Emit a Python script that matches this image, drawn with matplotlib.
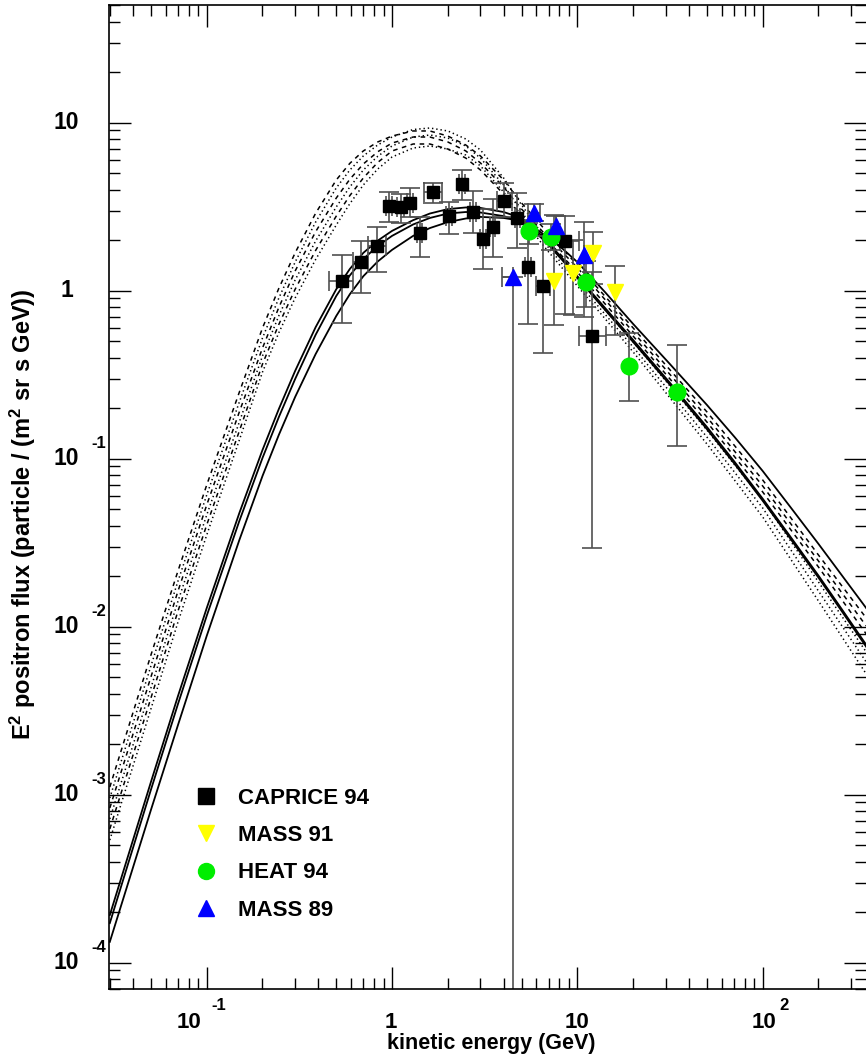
#POSITRON FLUX PLOT (E^2 weighted, log-log)
import numpy as np
import matplotlib.pyplot as plt
import matplotlib.transforms as mtransforms
from matplotlib.lines import Line2D
from matplotlib.ticker import LogLocator, NullFormatter

plt.rcParams['font.family'] = ['Liberation Sans', 'DejaVu Sans']
plt.rcParams['font.weight'] = 'bold'
plt.rcParams['mathtext.fontset'] = 'custom'
plt.rcParams['mathtext.rm'] = 'Liberation Sans:bold'
plt.rcParams['mathtext.bf'] = 'Liberation Sans:bold'
plt.rcParams['mathtext.it'] = 'Liberation Sans:bold:italic'

#solid model curves, values at these energies (GeV)
solid_energy = [0.03, 0.05, 0.07, 0.1, 0.15, 0.2, 0.245, 0.3, 0.387, 0.5, 0.592, 0.7, 0.837,
                1.0, 1.3, 1.6, 2.0, 2.5, 3.0, 4.0, 5.0, 5.92, 7.0, 8.37, 10, 14.1, 20, 31.6,
                50, 70.7, 100, 141, 200, 269, 362]
solid_1 = [1.92e-4, 1.19e-3, 3.87e-3, 1.29e-2, 4.75e-2, 0.1127, 0.1976, 0.333, 0.6064, 1.02, 1.347,
           1.68, 1.986, 2.27, 2.63, 2.88, 3.06, 3.13, 3.11, 2.94, 2.71, 2.327, 1.92, 1.543, 1.22,
           0.790, 0.509, 0.2828, 0.1545, 0.0954, 0.0578, 0.03437, 0.02014, 0.01257, 0.0078]
solid_2 = [1.72e-4, 1.07e-3, 3.47e-3, 1.16e-2, 4.26e-2, 0.101, 0.1769, 0.298, 0.5464, 0.930, 1.233,
           1.544, 1.845, 2.12, 2.48, 2.71, 2.88, 2.94, 2.92, 2.78, 2.58, 2.241, 1.87, 1.503, 1.19,
           0.769, 0.495, 0.2754, 0.150, 0.0928, 0.0562, 0.03344, 0.01959, 0.01223, 0.00759]
solid_3 = [1.33e-4, 8.11e-4, 2.60e-3, 8.81e-3, 3.28e-2, 0.0789, 0.1386, 0.233, 0.4195, 0.707, 0.953,
           1.22, 1.492, 1.75, 2.12, 2.36, 2.56, 2.69, 2.75, 2.71, 2.60, 2.350, 2.06, 1.768, 1.48,
           0.981, 0.634, 0.3656, 0.209, 0.1342, 0.0845, 0.0516, 0.0311, 0.02004, 0.0129]

#dashed and dotted model curves
band_energy = [0.03, 0.05, 0.07, 0.1, 0.15, 0.2, 0.245, 0.3, 0.387, 0.5, 0.592, 0.7, 0.837, 1.0,
               1.3, 1.6, 2.0, 2.5, 3.0, 4.0, 5.0, 7.0, 10, 20, 50, 100, 200, 362]
dashed_1 = [1.11e-3, 6.78e-3, 2.15e-2, 6.97e-2, 0.249, 0.600, 1.033, 1.68, 2.891, 4.56, 5.73, 6.79,
            7.68, 8.33, 8.93, 8.93, 8.33, 7.37, 6.34, 4.56, 3.33, 2.18, 1.42, 0.600, 0.190, 0.0747,
            0.0267, 0.01126]
dashed_2 = [8.33e-4, 5.02e-3, 1.63e-2, 5.30e-2, 0.190, 0.456, 0.795, 1.31, 2.245, 3.56, 4.607, 5.68,
            6.716, 7.57, 8.22, 8.22, 7.68, 6.79, 5.76, 4.14, 3.06, 2.06, 1.37, 0.568, 0.177, 0.0688,
            0.0246, 0.0101]
dashed_3 = [6.25e-4, 3.76e-3, 1.24e-2, 4.03e-2, 0.1462, 0.366, 0.630, 1.02, 1.737, 2.78, 3.683, 4.69,
            5.80, 6.79, 7.47, 7.47, 6.97, 6.16, 5.23, 3.76, 2.82, 1.95, 1.29, 0.537, 0.1654, 0.0634,
            0.02266, 0.00905]
dotted_1 = [9.56e-4, 5.84e-3, 1.87e-2, 6.08e-2, 0.2175, 0.523, 0.904, 1.48, 2.562, 4.09, 5.23, 6.34,
            7.37, 8.22, 9.11, 9.30, 8.93, 8.00, 6.88, 4.69, 3.24, 1.92, 1.19, 0.495, 0.148, 0.0568,
            0.01845, 0.00707]
dotted_2 = [7.17e-4, 4.32e-3, 1.42e-2, 4.62e-2, 0.1654, 0.409, 0.709, 1.158, 1.975, 3.15, 4.148, 5.23,
            6.31, 7.27, 8.22, 8.45, 8.11, 7.27, 6.16, 4.26, 2.94, 1.80, 1.127, 0.462, 0.1346, 0.0509,
            0.0163, 0.00616]
dotted_3 = [5.37e-4, 3.24e-3, 1.067e-2, 3.51e-2, 0.1292, 0.328, 0.5626, 0.905, 1.534, 2.46, 3.298, 4.26,
            5.30, 6.25, 7.07, 7.27, 6.97, 6.42, 5.53, 3.87, 2.71, 1.70, 1.067, 0.432, 0.1224, 0.045,
            0.01422, 0.00523]

#CAPRICE 94 (black squares)
caprice_energy = [0.539, 0.678, 0.830, 0.967, 1.114, 1.255, 1.41, 1.66, 2.02, 2.39, 2.75, 3.10,
                  3.49, 4.02, 4.75, 5.42, 6.53, 8.59, 12.05]
caprice_flux = [1.14, 1.476, 1.85, 3.21, 3.14, 3.34, 2.20, 3.87, 2.77, 4.33, 2.94, 2.02,
                2.40, 3.42, 2.70, 1.38, 1.06, 1.98, 0.540]
caprice_flux_lo = [0.64, 0.973, 1.30, 2.56, 2.52, 2.76, 1.59, 3.31, 2.17, 3.47, 2.20, 1.35,
                   1.58, 2.76, 1.79, 0.634, 0.424, 0.726, 0.0294]
caprice_flux_hi = [1.64, 1.98, 2.40, 3.85, 3.76, 4.10, 2.76, 4.39, 3.39, 5.23, 3.94, 3.05,
                   3.50, 4.38, 3.80, 2.52, 2.12, 2.79, 1.30]
caprice_e_lo = [0.457, 0.616, 0.741, 0.93, 1.07, 1.20, 1.36, 1.48, 1.95, 2.30, 2.65, 3.00,
                3.38, 3.67, 4.60, 5.25, 6.00, 8.10, 10.2]
caprice_e_hi = [0.616, 0.741, 0.930, 1.00, 1.16, 1.30, 1.46, 1.85, 2.10, 2.48, 2.85, 3.20,
                3.60, 4.42, 4.90, 5.60, 7.10, 10.2, 14.3]

#MASS 91 (yellow down triangles)
mass91_energy = [7.48, 9.44, 12.2, 16.0]
mass91_flux = [1.15, 1.28, 1.67, 0.986]
mass91_flux_lo = [0.625, 0.717, 1.10, 0.545]
mass91_flux_hi = [2.82, 2.00, 2.24, 1.40]

#HEAT 94 (green circles)
heat_energy = [5.47, 7.18, 11.1, 19.0, 34.5]
heat_flux = [2.26, 2.08, 1.13, 0.356, 0.249]
heat_flux_lo = [1.90, 1.75, 0.80, 0.221, 0.119]
heat_flux_hi = [2.65, 2.50, 1.50, 0.557, 0.475]

#MASS 89 (blue up triangles)
mass89_energy = [4.52, 5.86, 7.67, 10.9]
mass89_flux = [1.21, 2.89, 2.43, 1.63]
mass89_flux_lo = [1e-5, 2.60, 2.10, 0.70]
mass89_flux_hi = [1.21, 3.30, 2.80, 2.57]
mass89_e_lo = [3.91, 5.40, 7.67, 10.9]
mass89_e_hi = [4.52, 6.30, 7.67, 10.9]

#axis tick labels
ytick_values = [10, 1, 0.1, 0.01, 0.001, 0.0001]
ytick_base = ['10', '1', '10', '10', '10', '10']
ytick_expo = ['', '', '-1', '-2', '-3', '-4']
xtick_values = [0.1, 1, 10, 100]
xtick_base = ['10', '1', '10', '10']
xtick_expo = ['-1', '', '', '2']

W, H = 866, 1059
fig = plt.figure(figsize=(W / 100, H / 100), dpi=100)
ax = fig.add_axes([109 / W, 1 - 989 / H, 1 - 109 / W, 984 / H])
ax.set_xscale('log')
ax.set_yscale('log')

#model curves
for curve in [solid_1, solid_2, solid_3]:
    ax.plot(solid_energy, curve, color='black', lw=1.3, solid_joinstyle='round')
for curve in [dashed_1, dashed_2, dashed_3]:
    ax.plot(band_energy, curve, color='black', lw=1.1, ls=(0, (3, 3)))
for curve in [dotted_1, dotted_2, dotted_3]:
    ax.plot(band_energy, curve, color='black', lw=1.1, ls=(0, (0.9, 1.9)))

def asym(center, lo, hi):
    center = np.array(center)
    return [center - np.array(lo), np.array(hi) - center]

err_style = dict(fmt='none', ecolor='#505050', elinewidth=1.2, capsize=7, capthick=1.2)

#error bars
ax.errorbar(caprice_energy, caprice_flux,
            xerr=asym(caprice_energy, caprice_e_lo, caprice_e_hi),
            yerr=asym(caprice_flux, caprice_flux_lo, caprice_flux_hi), **err_style)
ax.errorbar(mass91_energy, mass91_flux,
            yerr=asym(mass91_flux, mass91_flux_lo, mass91_flux_hi), **err_style)
ax.errorbar(heat_energy, heat_flux,
            yerr=asym(heat_flux, heat_flux_lo, heat_flux_hi), **err_style)
ax.errorbar(mass89_energy, mass89_flux,
            xerr=asym(mass89_energy, mass89_e_lo, mass89_e_hi),
            yerr=asym(mass89_flux, mass89_flux_lo, mass89_flux_hi), **err_style)

#markers
ax.plot(caprice_energy, caprice_flux, 's', color='black', ms=8.5, ls='none')
ax.plot(mass91_energy, mass91_flux, 'v', color='#ffff00', ms=11.5, ls='none')
ax.plot(heat_energy, heat_flux, 'o', color='#00ee00', ms=12, ls='none')
ax.plot(mass89_energy, mass89_flux, '^', color='#0000ff', ms=11.5, ls='none')

ax.set_xlim(0.0297, 361)
ax.set_ylim(6.97e-5, 50.2)

#ticks on all sides, pointing in
for axis in [ax.xaxis, ax.yaxis]:
    axis.set_major_locator(LogLocator(base=10, numticks=20))
    axis.set_minor_locator(LogLocator(base=10, subs=np.arange(2, 10), numticks=20))
    axis.set_minor_formatter(NullFormatter())
ax.tick_params(which='both', direction='in', top=True, right=True,
               labelbottom=False, labelleft=False, color='black', width=1)
ax.tick_params(which='major', length=16)
ax.tick_params(which='minor', length=8)
ax.spines['right'].set_visible(False)
for side in ['left', 'bottom', 'top']:
    ax.spines[side].set_linewidth(1.2)

#tick labels written in the ROOT style (base + raised exponent)
ylab = mtransforms.blended_transform_factory(fig.transFigure, ax.transData)
for val, base, expo in zip(ytick_values, ytick_base, ytick_expo):
    ax.text(66.5 / W, val, base, transform=ylab, ha='center', va='center', fontsize=16.5)
    if expo:
        ax.text(91 / W, val, expo, fontsize=12, ha='left', va='center',
                transform=mtransforms.offset_copy(ylab, fig=fig, y=15, units='dots'))

xlab = mtransforms.blended_transform_factory(ax.transData, fig.transFigure)
x_shift = {0.1: -18, 1: -1, 10: 0, 100: 1.6}
x_expo_shift = {0.1: 5, 100: 17}
for val, base, expo in zip(xtick_values, xtick_base, xtick_expo):
    ax.text(val, 1 - 1028 / H, base, ha='center', va='baseline', fontsize=16,
            transform=mtransforms.offset_copy(xlab, fig=fig, x=x_shift[val], units='dots'))
    if expo:
        ax.text(val, 1 - 1010 / H, expo, ha='left', va='baseline', fontsize=12,
                transform=mtransforms.offset_copy(xlab, fig=fig, x=x_expo_shift[val], units='dots'))

fig.text(491 / W, 1 - 1043 / H, 'kinetic energy (GeV)', ha='center', va='center', fontsize=15.5)
fig.text(23 / W, 1 - 514 / H, r'E$^{2}$ positron flux (particle / (m$^{2}$ sr s GeV))',
         ha='center', va='center', rotation=90, fontsize=17)

#legend
handles = [Line2D([], [], marker='s', color='black', ls='none', ms=11.5),
           Line2D([], [], marker='v', color='#ffff00', ls='none', ms=11),
           Line2D([], [], marker='o', color='#00ee00', ls='none', ms=11.5),
           Line2D([], [], marker='^', color='#0000ff', ls='none', ms=11)]
labels = ['CAPRICE 94', 'MASS 91', 'HEAT 94', 'MASS 89']
fig.legend(handles, labels, loc='upper left', bbox_to_anchor=(195 / W, 1 - 788 / H),
           frameon=False, fontsize=16, borderpad=0, handlelength=1.0,
           handletextpad=0.95, labelspacing=0.73, borderaxespad=0)

fig.savefig('out.png', dpi=100)
